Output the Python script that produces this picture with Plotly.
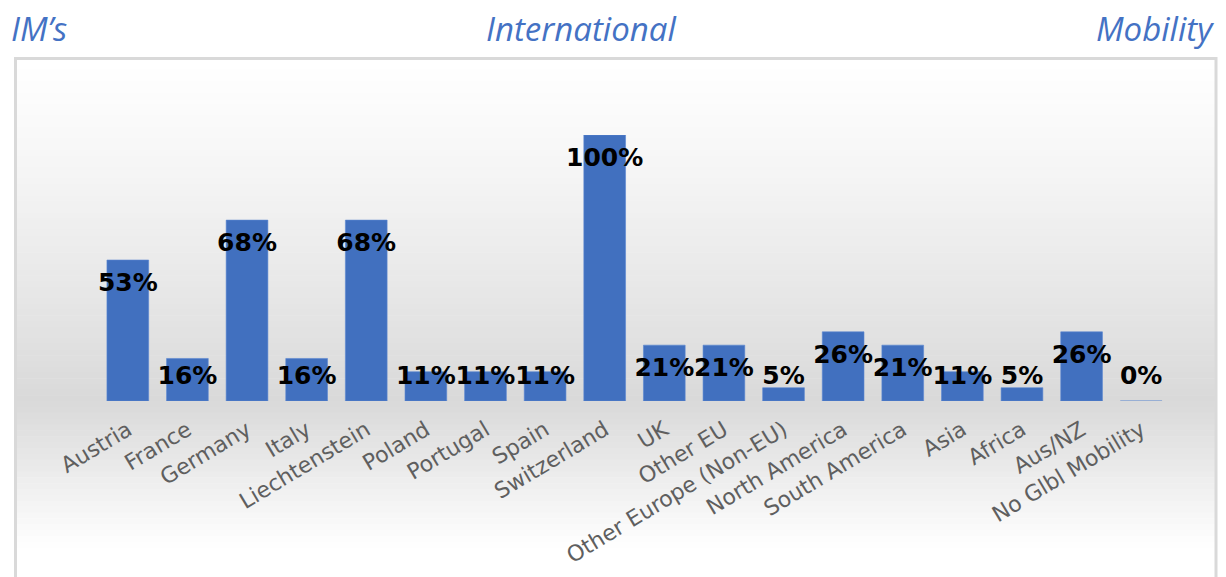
import plotly.graph_objects as go

categories = ["Austria", "France", "Germany", "Italy", "Liechtenstein", "Poland", "Portugal",
              "Spain", "Switzerland", "UK", "Other EU", "Other Europe (Non-EU)",
              "North America", "South America", "Asia", "Africa", "Aus/NZ", "No Glbl Mobility"]
values = [0.53, 0.16, 0.68, 0.16, 0.68, 0.11, 0.11, 0.11, 1.00, 0.21, 0.21, 0.05,
          0.26, 0.21, 0.11, 0.05, 0.26, 0.00]
labels = [f"{round(v*100)}%" for v in values]

W, H = 1226, 577
px_left, px_right = 98, 1171
px_top, px_base = 135, 401

def px(x):
    return x / W

def py(y):
    return 1 - y / H

fig = go.Figure()

# bars
fig.add_trace(go.Bar(
    x=categories, y=values,
    marker=dict(color="#4170bf", line=dict(color="#5a86d2", width=0.6)),
    hoverinfo="skip", showlegend=False,
))

# data labels (inside end, clamped near the baseline)
off = 25 / (px_base - px_top)
floor = (px_base - 378) / (px_base - px_top)
label_y = [max(v - off, floor) for v in values]
fig.add_trace(go.Scatter(
    x=categories, y=label_y, mode="text", text=labels,
    textposition="middle center",
    textfont=dict(family="DejaVu Sans", size=25, color="#000000", weight="bold"),
    hoverinfo="skip", showlegend=False, cliponaxis=False,
))

shapes = []

def mix(c1, c2, t):
    return "rgb(%d,%d,%d)" % tuple(round(a + (b - a) * t) for a, b in zip(c1, c2))

white = (255, 255, 255)
grey = (217, 217, 217)
# upper gradient
n = 60
y0, y1 = 58, px_base
for i in range(n):
    ya = y0 + (y1 - y0) * i / n
    yb = y0 + (y1 - y0) * (i + 1) / n + 0.5
    t = (i + 0.5) / n
    shapes.append(dict(type="rect", xref="paper", yref="paper", layer="below",
                       x0=px(16), x1=px(1215), y0=py(yb), y1=py(ya),
                       fillcolor=mix(white, grey, t ** 1.2), line=dict(width=0)))
# lower gradient
n2 = 30
y0, y1 = px_base, 577
for i in range(n2):
    ya = y0 + (y1 - y0) * i / n2
    yb = y0 + (y1 - y0) * (i + 1) / n2 + 0.5
    t = (i + 0.5) / n2
    shapes.append(dict(type="rect", xref="paper", yref="paper", layer="below",
                       x0=px(16), x1=px(1215), y0=py(yb), y1=py(ya),
                       fillcolor=mix(grey, white, min(1, t * 1.2)), line=dict(width=0)))
# chart border
shapes.append(dict(type="rect", xref="paper", yref="paper", layer="below",
                   x0=px(15.5), x1=px(1216), y0=py(600), y1=py(58.5),
                   fillcolor="rgba(0,0,0,0)", line=dict(color="#d9d9d9", width=3)))

title_font = dict(family="Open Sans", size=33, color="#4472c4", style="italic", weight=400)
annotations = [
    dict(text="IM’s", x=px(9), y=py(28), xref="paper", yref="paper",
         xanchor="left", yanchor="middle", showarrow=False, font=title_font),
    dict(text="International", x=px(581), y=py(28), xref="paper", yref="paper",
         xanchor="center", yanchor="middle", showarrow=False, font=title_font),
    dict(text="Mobility", x=px(1216), y=py(28), xref="paper", yref="paper",
         xanchor="right", yanchor="middle", showarrow=False, font=title_font),
]

fig.update_layout(
    width=W, height=H,
    margin=dict(l=0, r=0, t=0, b=0),
    paper_bgcolor="#ffffff", plot_bgcolor="rgba(0,0,0,0)",
    bargap=0.3,
    shapes=shapes, annotations=annotations,
    xaxis=dict(domain=[px(px_left), px(px_right)], range=[-0.5, len(categories) - 0.5],
               tickangle=-31, ticklabelstandoff=11,
               tickfont=dict(family="DejaVu Sans", size=22, color="#5f5f5f"),
               showgrid=False, showline=False, zeroline=False, ticks="",
               automargin=False, fixedrange=True),
    yaxis=dict(domain=[py(px_base), py(px_top)], range=[0, 1.0],
               visible=False, showgrid=False, zeroline=False, automargin=False,
               fixedrange=True),
)

fig.write_html("out.html")
